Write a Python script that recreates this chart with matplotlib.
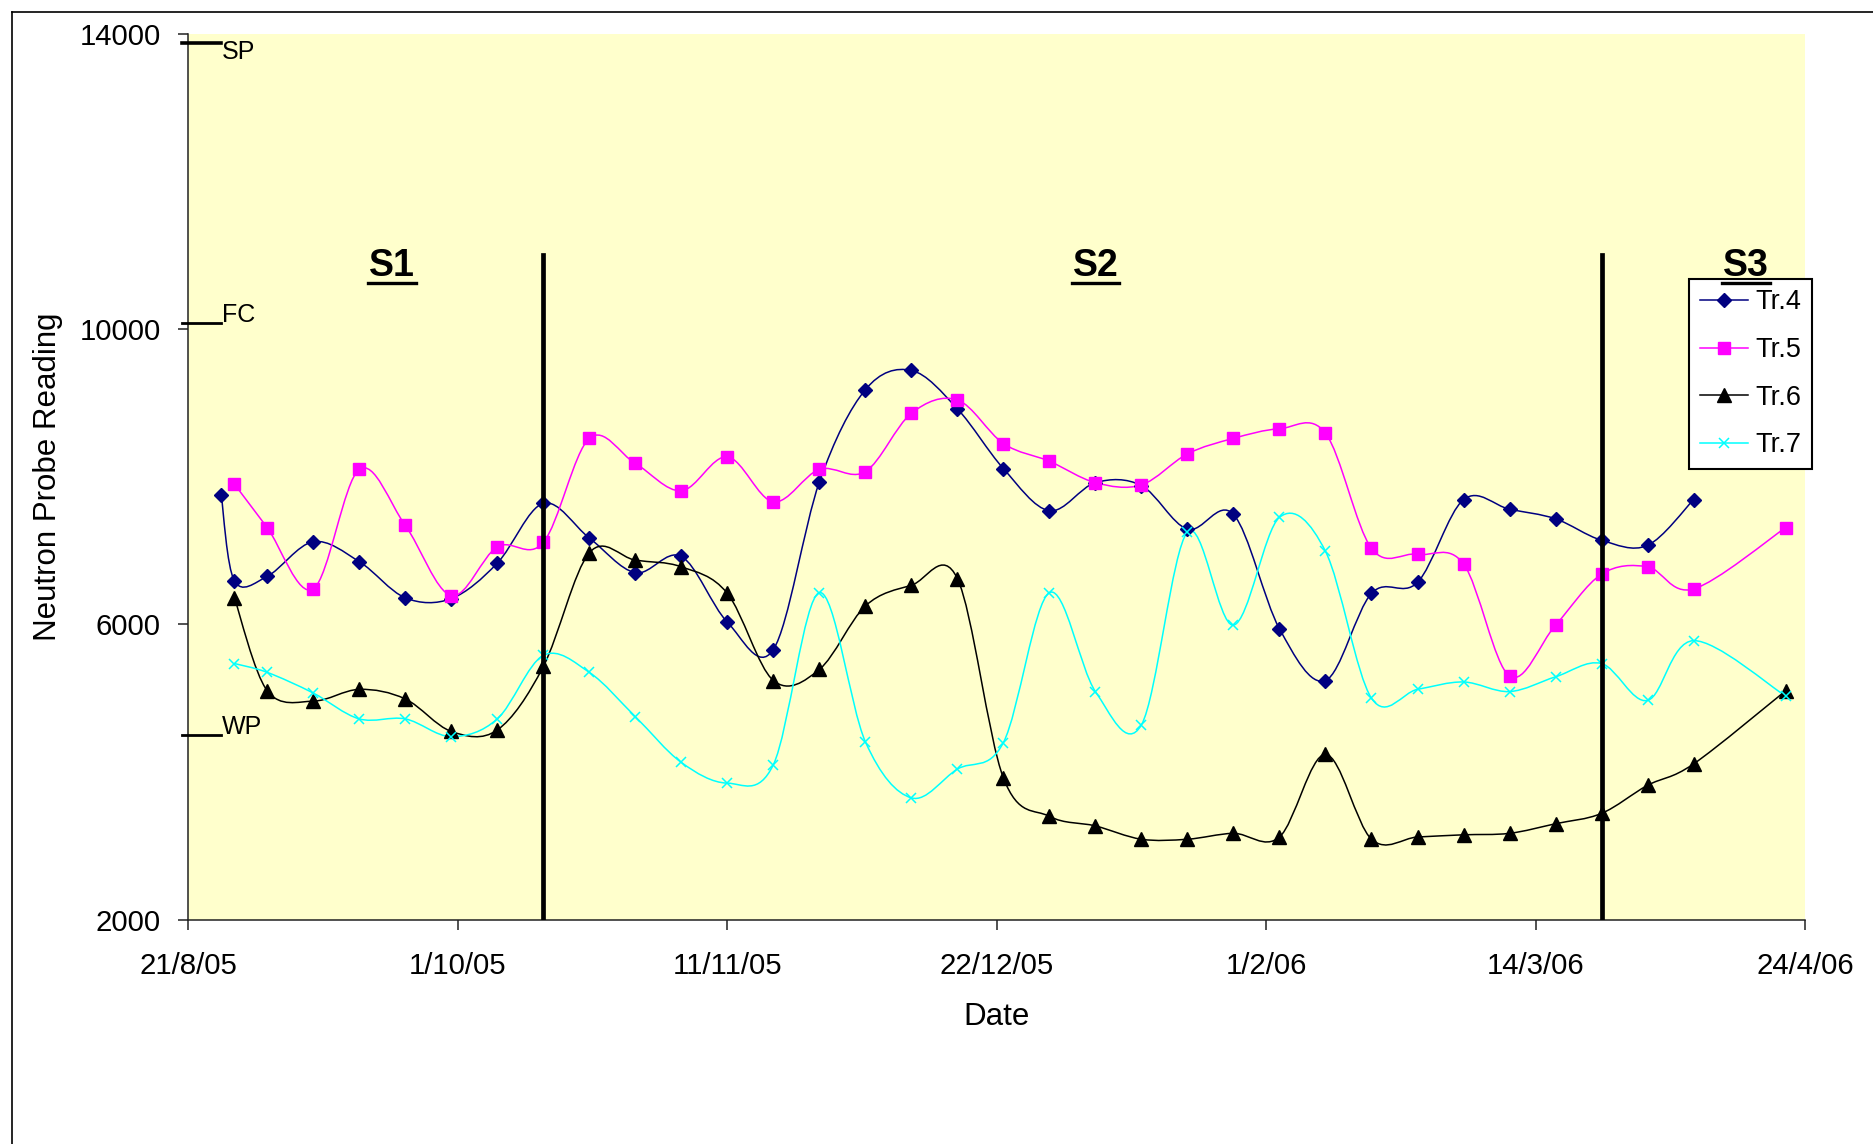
import datetime as dt
import numpy as np
import matplotlib
matplotlib.use('Agg')
import matplotlib.pyplot as plt
import matplotlib.dates as mdates
from matplotlib.path import Path
from matplotlib.patches import PathPatch
from matplotlib.lines import Line2D
from matplotlib.transforms import IdentityTransform, blended_transform_factory

plt.rcParams['font.family'] = ['Liberation Sans', 'DejaVu Sans']

# weekly reading dates
weeks = ['28/8/05', '2/9/05', '9/9/05', '16/9/05', '23/9/05', '30/9/05',
         '7/10/05', '14/10/05', '21/10/05', '28/10/05', '4/11/05', '11/11/05',
         '18/11/05', '25/11/05', '2/12/05', '9/12/05', '16/12/05', '23/12/05',
         '30/12/05', '6/1/06', '13/1/06', '20/1/06', '27/1/06', '3/2/06',
         '10/2/06', '17/2/06', '24/2/06', '3/3/06', '10/3/06', '17/3/06',
         '24/3/06', '31/3/06', '7/4/06']
tr4_dates = ['26/8/05'] + weeks
tr_dates = weeks + ['21/4/06']

tr4 = [7750, 6590, 6650, 7120, 6850, 6360, 6350, 6830, 7640, 7170, 6700, 6920,
       6030, 5660, 7930, 9180, 9440, 8920, 8110, 7540, 7920, 7880, 7290, 7490,
       5940, 5240, 6420, 6570, 7690, 7560, 7430, 7140, 7070, 7690]
tr5 = [7900, 7310, 6480, 8100, 7340, 6390, 7050, 7110, 8520, 8180, 7810, 8270,
       7660, 8100, 8070, 8860, 9040, 8450, 8210, 7920, 7890, 8310, 8520, 8650,
       8590, 7030, 6950, 6820, 5300, 5990, 6680, 6780, 6480, 7310]
tr6 = [6360, 5100, 4960, 5120, 4990, 4550, 4570, 5430, 6970, 6870, 6780, 6420,
       5240, 5390, 6250, 6530, 6620, 3920, 3400, 3270, 3090, 3090, 3170, 3120,
       4240, 3090, 3120, 3150, 3170, 3300, 3440, 3820, 4110, 5100]
tr7 = [5470, 5350, 5070, 4720, 4720, 4480, 4720, 5580, 5350, 4750, 4130, 3850,
       4100, 6430, 4410, 3650, 4040, 4400, 6430, 5090, 4640, 7250, 5990, 7450,
       6990, 5000, 5120, 5220, 5090, 5290, 5470, 4970, 5780, 5030]

xtick_labels = ['21/8/05', '1/10/05', '11/11/05', '22/12/05', '1/2/06', '14/3/06', '24/4/06']
yticks = [2000, 6000, 10000, 14000]

# soil water reference levels
ref_names = ['SP', 'FC', 'WP']
ref_levels = [13870, 10080, 4500]

# season boundaries and labels
season_breaks = ['14/10/05', '24/3/06']
season_top = 11000
season_names = ['S1', 'S2', 'S3']
season_dates = ['21/9/05', '6/1/06', '15/4/06']
season_y = 10850


def day(s):
    return mdates.date2num(dt.datetime.strptime(s, '%d/%m/%y'))


def smooth_path(x, y):
    # Catmull-Rom through the points, written as cubic Bezier segments
    p = np.column_stack([x, y]).astype(float)
    ext = np.vstack([p[0], p, p[-1]])
    verts = [p[0]]
    codes = [Path.MOVETO]
    for i in range(len(p) - 1):
        p0, p1, p2, p3 = ext[i], ext[i + 1], ext[i + 2], ext[i + 3]
        verts += [p1 + (p2 - p0) / 6, p2 - (p3 - p1) / 6, p2]
        codes += [Path.CURVE4] * 3
    return Path(verts, codes)


W, H = 1874, 1144
fig = plt.figure(figsize=(W / 100, H / 100), dpi=100)
ax = fig.add_axes([188.4 / W, 1 - 919.7 / H, 1616.9 / W, 885.9 / H])
ax.set_facecolor('#FFFFCC')

series = [
    ('Tr.4', tr4_dates, tr4, '#000080', 'D', 7.3, 1),
    ('Tr.5', tr_dates, tr5, '#FF00FF', 's', 8.8, 1),
    ('Tr.6', tr_dates, tr6, '#000000', '^', 9.5, 1),
    ('Tr.7', tr_dates, tr7, '#00FFFF', 'x', 7, 1.1),
]
handles = []
for name, dates, vals, col, mk, ms, mew in series:
    xs = [day(s) for s in dates]
    ax.add_patch(PathPatch(smooth_path(xs, vals), fill=False, edgecolor=col, lw=1.1, zorder=2))
    ax.plot(xs, vals, linestyle='none', marker=mk, ms=ms, color=col, mec=col, mew=mew, zorder=3)
    handles.append(Line2D([], [], color=col, lw=1.1, marker=mk, ms=ms, mew=mew, label=name))

for s in season_breaks:
    ax.plot([day(s), day(s)], [2000, season_top], color='black', lw=3.4, zorder=5)

season_texts = []
for name, s in zip(season_names, season_dates):
    season_texts.append(ax.text(day(s), season_y, name, fontsize=27, fontweight='bold',
                                ha='center', va='center', zorder=6))

trans = blended_transform_factory(ax.transAxes, ax.transData)
for name, lev in zip(ref_names, ref_levels):
    ax.plot([-0.004, 0.02], [lev, lev], color='black', lw=2.6 if name == 'SP' else 2,
            transform=trans, clip_on=False, zorder=6)
    if name == 'SP':
        ax.text(0.0205, lev + 50, name, fontsize=18, transform=trans,
                ha='left', va='top', zorder=6)
    else:
        ax.text(0.0205, lev + 20, name, fontsize=18, transform=trans,
                ha='left', va='baseline', zorder=6)

ax.set_xlim(day(xtick_labels[0]), day(xtick_labels[-1]))
ax.set_ylim(yticks[0], yticks[-1])
ax.set_xticks([day(s) for s in xtick_labels])
ax.set_xticklabels(xtick_labels)
ax.set_yticks(yticks)
ax.tick_params(axis='both', labelsize=21.2, length=7, width=1.1, color='#222222', direction='out')
ax.tick_params(axis='y', pad=13)
ax.tick_params(axis='x', pad=16)
for side in ('top', 'right'):
    ax.spines[side].set_visible(False)
for side in ('left', 'bottom'):
    ax.spines[side].set_linewidth(1.1)
    ax.spines[side].set_color('#222222')

ax.set_ylabel('Neutron Probe Reading', fontsize=22.5)
ax.yaxis.set_label_coords(-0.0776, 0.5)
ax.set_xlabel('Date', fontsize=22.5)
ax.xaxis.set_label_coords(0.5, -0.093)

leg = ax.legend(handles=handles, loc='upper left', bbox_to_anchor=(0.928, 0.7237),
                borderaxespad=0, fontsize=19.5, frameon=True, fancybox=False,
                framealpha=1, edgecolor='black', handlelength=1.8, handletextpad=0.25,
                labelspacing=0.8, borderpad=0.4)
leg.get_frame().set_linewidth(1.5)
leg.set_zorder(7)

# chart border
fig.add_artist(Line2D([12 / W, 1], [1 - 12 / H, 1 - 12 / H], color='black', lw=1.2))
fig.add_artist(Line2D([12 / W, 12 / W], [0, 1 - 12 / H], color='black', lw=1.2))

# underline the season labels
fig.canvas.draw()
for t in season_texts:
    bb = t.get_window_extent()
    fig.add_artist(Line2D([bb.x0 - 1, bb.x1 + 1], [bb.y0 + 1, bb.y0 + 1],
                          transform=IdentityTransform(), color='black', lw=2.4, zorder=8))

fig.savefig('out.png', dpi=100, facecolor='white')
